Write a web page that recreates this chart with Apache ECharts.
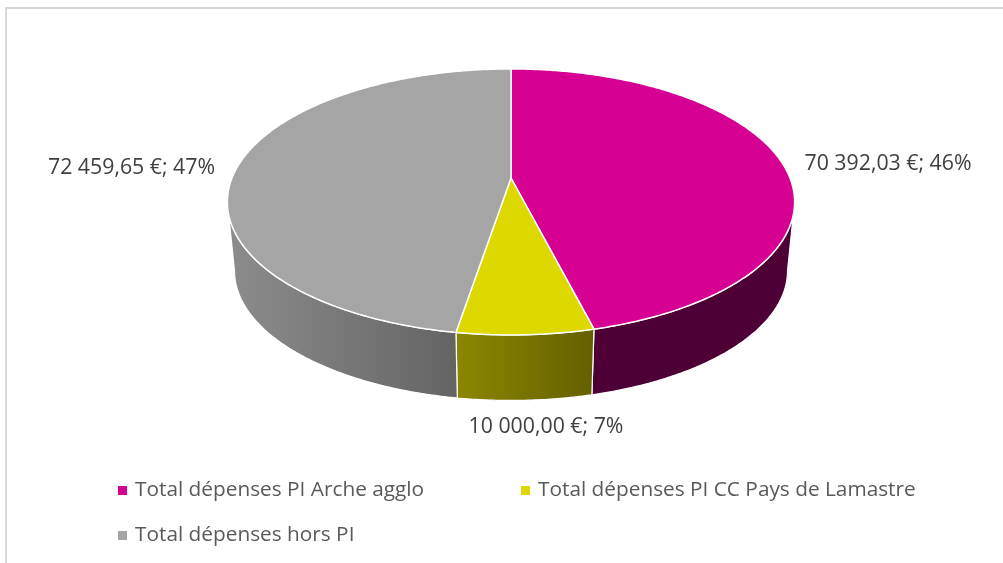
<!DOCTYPE html>
<html><head><meta charset="utf-8">
<style>html,body{margin:0;padding:0;background:#fff}#c{width:1003px;height:563px}</style>
<script src="https://cdn.jsdelivr.net/npm/echarts@6/dist/echarts.min.js"></script>
</head><body><div id="c"></div>
<script>
var categories = ['Total dépenses PI Arche agglo','Total dépenses PI CC Pays de Lamastre','Total dépenses hors PI'];
var values = [70392.03, 10000.00, 72459.65];
var topColors = ['#D60093','#DDD800','#A5A5A5'];
var sideStart = ['#4E0036','#8C8700','#8C8C8C'];
var sideEnd = ['#4E0036','#656000','#646464'];

var total = values.reduce(function(a,b){return a+b;},0);
var FONT = '"Open Sans", sans-serif', FS = 20.8, LABEL_FS = 21.3;
// projected disc: back of the pie is smaller than the front
var P = 0.18;
var TOP = {cx:511, cy:178, bx:279, by:128.7};
var BOT = {cx:511, cy:247.4, bx:272, by:125.5};
var labelAt = [{x:888,y:164,a:'center'},{x:546,y:427,a:'center'},{x:131.5,y:168,a:'center'}];
var gradX = [[594,790],[456,594],[230,456]];
function pt(d,t){var u=Math.sin(t),v=Math.cos(t),w=1+P*v;return [d.cx+d.bx*u/w,d.cy-d.by*v/w];}
function arc(d,a,b){var r=[],n=Math.max(2,Math.ceil(Math.abs(b-a)/0.01));for(var i=0;i<=n;i++){r.push(pt(d,a+(b-a)*i/n));}return r;}
function fmt(v){var s=v.toFixed(2).split('.');return s[0].replace(/\B(?=(\d{3})+$)/g,' ')+','+s[1];}
function renderSlice(idx){
  return function(params,api){
    var v=api.value(0), before=0;
    for(var i=0;i<idx;i++){before+=values[i];}
    var a=before/total*2*Math.PI, b=(before+v)/total*2*Math.PI;
    var visL=Math.acos(-P), visR=2*Math.PI-visL;
    var ch=[];
    var s=Math.max(a,visL), e=Math.min(b,visR);
    if(e>s){
      ch.push({type:'polygon',shape:{points:arc(TOP,s,e).concat(arc(BOT,e,s))},
        style:{fill:{type:'linear',global:true,x:gradX[idx][0],y:0,x2:gradX[idx][1],y2:0,
          colorStops:[{offset:0,color:sideStart[idx]},{offset:1,color:sideEnd[idx]}]},
          stroke:'#ffffff',lineWidth:1.2}});
    }
    ch.push({type:'polygon',shape:{points:[[TOP.cx,TOP.cy]].concat(arc(TOP,a,b))},
      style:{fill:topColors[idx],stroke:'#ffffff',lineWidth:1.5}});
    var L=labelAt[idx];
    ch.push({type:'text',style:{x:L.x,y:L.y,text:fmt(v)+' €; '+Math.round(v/total*100)+'%',
      fill:'#404040',font:LABEL_FS+'px '+FONT,textAlign:L.a,textVerticalAlign:'middle'}});
    return {type:'group',children:ch};
  };
}
var legendPos=[{left:118,top:480},{left:521,top:480},{left:118,top:525}];
var chart=echarts.init(document.getElementById('c'),null,{renderer:'canvas'});
chart.setOption({
  animation:false,
  backgroundColor:'#ffffff',
  legend:categories.map(function(c,i){return {
    data:[c],left:legendPos[i].left,top:legendPos[i].top,icon:'rect',itemWidth:9,itemHeight:9,padding:0,
    selectedMode:false,
    textStyle:{color:'#595959',fontFamily:FONT,fontSize:FS,padding:[0,0,0,3]}
  };}),
  graphic:[{type:'polyline',silent:true,shape:{points:[[6,563],[6,8],[1003,8]]},style:{fill:null,stroke:'#D9D9D9',lineWidth:2}}],
  series:categories.map(function(c,i){return {
    type:'custom',name:c,coordinateSystem:'none',silent:true,
    itemStyle:{color:topColors[i]},
    data:[[values[i]]],
    renderItem:renderSlice(i)
  };})
});
</script></body></html>
